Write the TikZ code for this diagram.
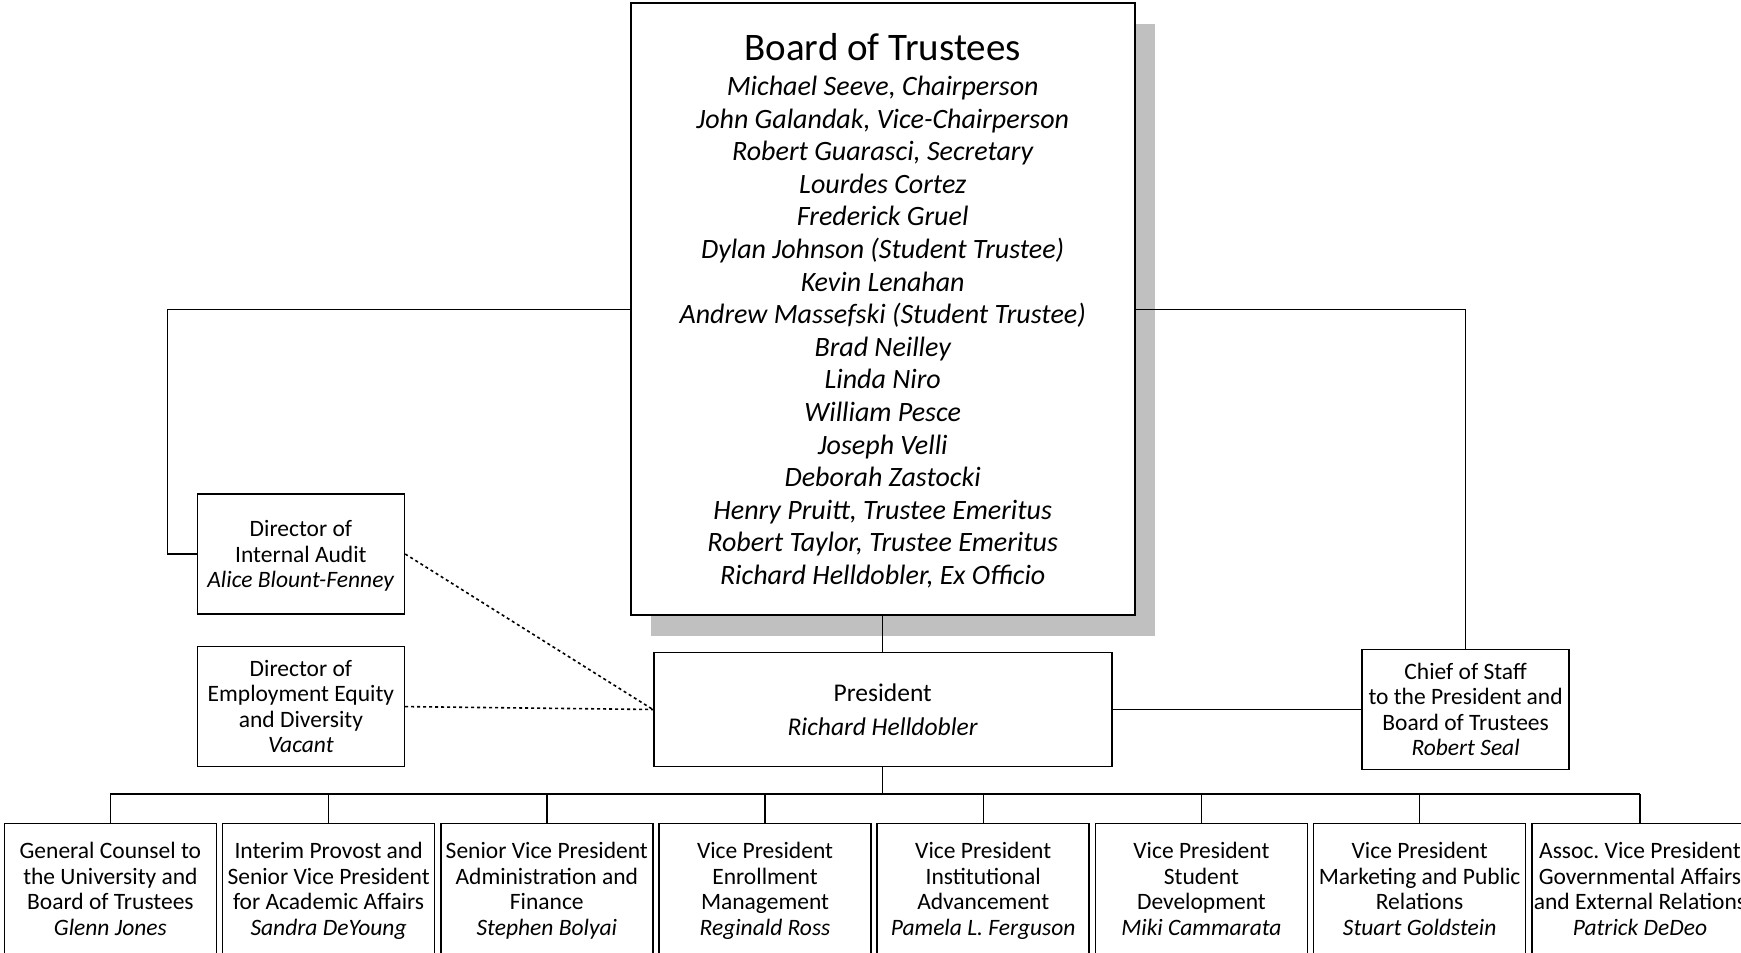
\documentclass[tikz,border=0pt]{standalone}
\usepackage{fontspec}
\setmainfont{Carlito}
\usepackage{tikz}
\usetikzlibrary{positioning}
\usetikzlibrary{shadows}
\definecolor{shadowgray}{RGB}{192,192,192}

\begin{document}
\begin{tikzpicture}[
      x=1pt, y=-1pt,
      box/.style={draw,rectangle,line width=1.6pt,fill=white,
                  inner sep=2pt,align=center},
      staff/.style={box,minimum width=207pt,minimum height=120pt,
                  font=\fontsize{23.5}{25.5}\selectfont},
      dept/.style={box,minimum width=212pt,minimum height=140pt,
                  text depth=9.4pt,font=\fontsize{23.5}{25.5}\selectfont},
      link/.style={line width=1.4pt},
      dotlink/.style={line width=1.6pt,dash pattern=on 3pt off 3pt}
    ]
    \useasboundingbox (0,0) rectangle (1741,953);
    \clip (0,0) rectangle (1741,953);

    % Board of Trustees
    \node[box, line width=1.8pt, minimum width=504pt, minimum height=612pt,
          text depth=-3.5pt,
          drop shadow={shadow xshift=20pt, shadow yshift=-21pt,
                       fill=shadowgray, opacity=1},
          font=\fontsize{28}{32.6}\selectfont\itshape] (board) at (882.7,309.2)
          {{\upshape\fontsize{39}{39}\selectfont Board of Trustees}\\[2pt]
           Michael Seeve, Chairperson\\
           John Galandak, Vice-Chairperson\\
           Robert Guarasci, Secretary\\
           Lourdes Cortez\\
           Frederick Gruel\\
           Dylan Johnson (Student Trustee)\\
           Kevin Lenahan\\
           Andrew Massefski (Student Trustee)\\
           Brad Neilley\\
           Linda Niro\\
           William Pesce\\
           Joseph Velli\\
           Deborah Zastocki\\
           Henry Pruitt, Trustee Emeritus\\
           Robert Taylor, Trustee Emeritus\\
           Richard Helldobler, Ex Officio};

    % President and staff offices
    \node[box, minimum width=458pt, minimum height=114pt,
          font=\fontsize{25.5}{34.4}\selectfont] (pres) at (882.7,709.5)
          {President\\\textit{Richard Helldobler}};
    \node[staff, text depth=0pt] (audit) at (300.9,554)
          {Director of\\Internal Audit\\\textit{Alice Blount-Fenney}};
    \node[staff, below=31pt of audit] (eeo)
          {Director of\\Employment Equity\\and Diversity\\\textit{Vacant}};
    \node[staff] (chief) at (1465.6,709.5)
          {Chief of Staff\\to the President and\\Board of Trustees\\\textit{Robert Seal}};

    % Divisions
    \node[dept, anchor=north west] (counsel) at (3.6,822.7)
          {General Counsel to\\the University and\\Board of Trustees\\\textit{Glenn Jones}};
    \node[dept, right=4.6pt of counsel] (provost)
          {Interim Provost and\\Senior Vice President\\for Academic Affairs\\\textit{Sandra DeYoung}};
    \node[dept, right=4.6pt of provost] (finance)
          {Senior Vice President\\Administration and\\Finance\\\textit{Stephen Bolyai}};
    \node[dept, right=4.6pt of finance] (enroll)
          {Vice President\\Enrollment\\Management\\\textit{Reginald Ross}};
    \node[dept, right=4.6pt of enroll] (advance)
          {Vice President\\Institutional\\Advancement\\\textit{Pamela L. Ferguson}};
    \node[dept, right=4.6pt of advance] (student)
          {Vice President\\Student\\Development\\\textit{Miki Cammarata}};
    \node[dept, right=4.6pt of student] (marketing)
          {Vice President\\Marketing and Public\\Relations\\\textit{Stuart Goldstein}};
    \node[dept, right=4.6pt of marketing] (govaff)
          {Assoc.\ Vice President\\Governmental Affairs\\and External Relations\\\textit{Patrick DeDeo}};

    % Reporting lines
    \coordinate (auditbend) at (167.7,554);
    \coordinate (bus) at (0,794);
    \draw[link] (board.south) -- (pres.north);
    \draw[link] (board.west) -| (auditbend) -- (audit.west);
    \draw[link] (board.east) -| (chief.north);
    \draw[link] (pres.east) -- (chief.west);
    \draw[link] (pres.south) -- (pres.south |- bus);
    \draw[link] (counsel.north |- bus) -- (govaff.north |- bus);
    \draw[link] (counsel.north) -- (counsel.north |- bus);
    \draw[link] (provost.north) -- (provost.north |- bus);
    \draw[link] (finance.north) -- (finance.north |- bus);
    \draw[link] (enroll.north) -- (enroll.north |- bus);
    \draw[link] (advance.north) -- (advance.north |- bus);
    \draw[link] (student.north) -- (student.north |- bus);
    \draw[link] (marketing.north) -- (marketing.north |- bus);
    \draw[link] (govaff.north) -- (govaff.north |- bus);

    % Dotted lines to the President
    \draw[dotlink] (audit.east) -- (pres.west);
    \draw[dotlink] (eeo.east) -- (pres.west);

  \end{tikzpicture}
\end{document}
